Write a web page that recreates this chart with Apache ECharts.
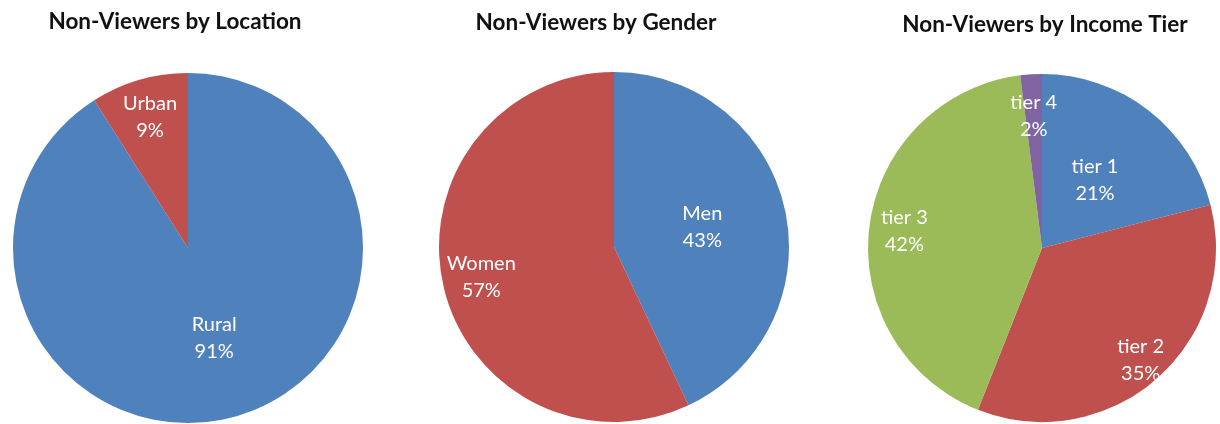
<!DOCTYPE html>
<html>
<head>
<meta charset="utf-8">
<script src="https://cdn.jsdelivr.net/npm/echarts@6/dist/echarts.min.js"></script>
<style>
  html, body { margin: 0; padding: 0; background: #fff; }
  #chart { width: 1220px; height: 424px; }
</style>
</head>
<body>
<div id="chart"></div>
<script>
// Share of non-viewers, in percent, by three breakdowns
const titles = ['Non-Viewers by Location', 'Non-Viewers by Gender', 'Non-Viewers by Income Tier'];

const locationNames = ['Rural', 'Urban'];
const locationValues = [91, 9];

const genderNames = ['Men', 'Women'];
const genderValues = [43, 57];

const incomeNames = ['tier 1', 'tier 2', 'tier 3', 'tier 4'];
const incomeValues = [21, 35, 42, 2];

// Layout and styling
const BLUE = '#4F81BD', RED = '#C0504D', GREEN = '#9BBB59', PURPLE = '#8064A2';
const FONT = 'Lato, "Open Sans", sans-serif';

const pies = [
  { names: locationNames, values: locationValues, colors: [BLUE, RED],
    center: [188, 248], radius: 175, titleX: 170, titleY: 5,
    labelFrac: [0.52, 0.76] },
  { names: genderNames, values: genderValues, colors: [BLUE, RED],
    center: [614, 247], radius: 175, titleX: 591, titleY: 6,
    labelFrac: [0.5, 0.76] },
  { names: incomeNames, values: incomeValues, colors: [BLUE, RED, GREEN, PURPLE],
    center: [1042, 248], radius: 174, titleX: 1040, titleY: 8,
    labelFrac: [0.48, 0.84, 0.78, 0.74] }
];

const series = [];
const title = [];

pies.forEach(function (p, pi) {
  title.push({
    text: titles[pi],
    left: p.titleX,
    top: p.titleY,
    textAlign: 'center',
    textStyle: { fontFamily: FONT, fontWeight: 'bold', fontSize: 22.5, color: '#111' }
  });

  const data = p.names.map(function (n, i) {
    return { name: n, value: p.values[i], itemStyle: { color: p.colors[i] } };
  });

  // the slices themselves
  series.push({
    type: 'pie',
    center: p.center,
    radius: [0, p.radius],
    startAngle: 90,
    clockwise: true,
    silent: true,
    animation: false,
    label: { show: false },
    labelLine: { show: false },
    data: data
  });

  // one transparent ring per slice places its label at the chosen radius
  p.names.forEach(function (n, li) {
    const d = p.radius * p.labelFrac[li];
    series.push({
      type: 'pie',
      center: p.center,
      radius: [d - 1, d + 1],
      startAngle: 90,
      clockwise: true,
      silent: true,
      animation: false,
      avoidLabelOverlap: false,
      itemStyle: { color: 'rgba(0,0,0,0)' },
      labelLine: { show: false },
      label: {
        show: true,
        position: 'inside',
        formatter: '{b}\n{c}%',
        fontFamily: FONT,
        fontSize: 20,
        lineHeight: 27,
        color: '#fff',
        textBorderWidth: 0
      },
      data: p.names.map(function (nm, i) {
        return { name: nm, value: p.values[i], label: { show: i === li } };
      })
    });
  });
});

const chart = echarts.init(document.getElementById('chart'), null, { renderer: 'canvas' });
chart.setOption({
  backgroundColor: '#fff',
  animation: false,
  title: title,
  series: series
});
</script>
</body>
</html>
